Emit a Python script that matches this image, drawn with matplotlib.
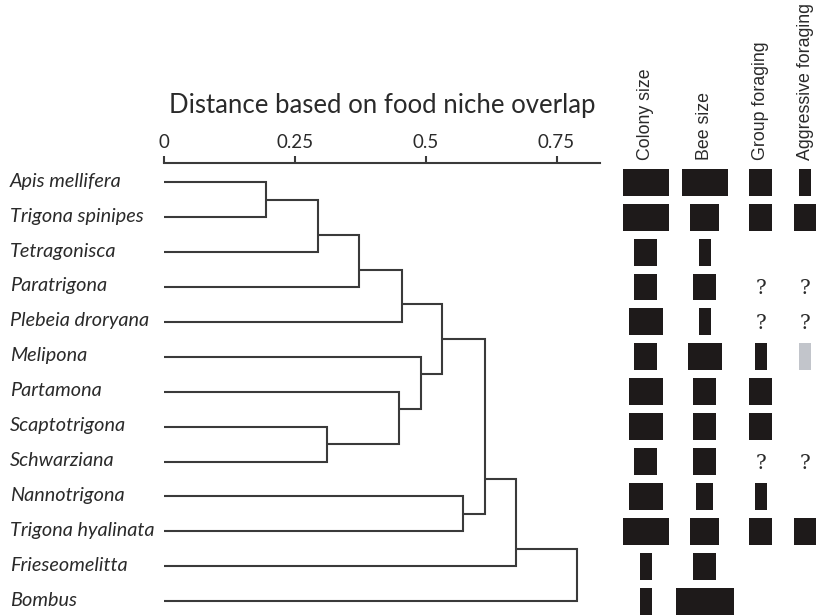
import matplotlib
matplotlib.use('Agg')
import matplotlib.pyplot as plt
import numpy as np
from matplotlib import transforms

# ---------------- data ----------------
species = ["Apis mellifera", "Trigona spinipes", "Tetragonisca", "Paratrigona",
           "Plebeia droryana", "Melipona", "Partamona", "Scaptotrigona",
           "Schwarziana", "Nannotrigona", "Trigona hyalinata", "Frieseomelitta",
           "Bombus"]

# linkage (upper child, lower child, distance); leaves 0..12, new nodes 13..24
merge_upper = [0, 13, 14, 15, 7, 6, 5, 16, 9, 20, 22, 23]
merge_lower = [1, 2, 3, 4, 8, 17, 18, 19, 10, 21, 11, 12]
merge_dist = [0.195, 0.295, 0.372, 0.454, 0.312, 0.449, 0.491, 0.532,
              0.572, 0.613, 0.672, 0.790]

dist_ticks = [0, 0.25, 0.5, 0.75]
dist_ticklabels = ["0", "0.25", "0.5", "0.75"]

trait_names = ["Colony size", "Bee size", "Group foraging", "Aggressive foraging"]
nan = np.nan
colony_size = [4, 4, 2, 2, 3, 2, 3, 3, 2, 3, 4, 1, 1]
bee_size = [4, 2.5, 1, 2, 1, 3, 2, 2, 2, 1.5, 2.5, 2, 5]
group_foraging = [2, 2, 0, nan, nan, 1, 2, 2, nan, 1, 2, 0, 0]
aggressive_foraging = [1, 2, 0, nan, nan, 1, 0, 0, nan, 0, 2, 0, 0]
aggressive_uncertain = [0, 0, 0, 0, 0, 1, 0, 0, 0, 0, 0, 0, 0]

# ---------------- layout ----------------
W, H = 816, 615
fig = plt.figure(figsize=(W / 100, H / 100), dpi=100)
fig.patch.set_facecolor('white')

row0_px, row_step_px = 182.3, 34.9
top_px = 163.3
y_top = (top_px - row0_px) / row_step_px
y_bot = (H - row0_px) / row_step_px
ax_h = (H - top_px) / H

line_col = '#3a3a3a'
text_col = '#2a2a2a'
bar_col = '#1e1a1a'
grey_col = '#c2c5cb'

ax = fig.add_axes([164 / W, 0, (600 - 164) / W, ax_h])
ax.set_xlim(0, 0.833)
ax.set_ylim(y_bot, y_top)

n = len(species)
pos = {i: (0.0, float(i), i, i) for i in range(n)}
for k, (a, b, d) in enumerate(zip(merge_upper, merge_lower, merge_dist)):
    xa, ya, loa, hia = pos[a]
    xb, yb, lob, hib = pos[b]
    ax.plot([xa, d, d, xb], [ya, ya, yb, yb], color=line_col, lw=1.5,
            solid_joinstyle='miter', solid_capstyle='butt')
    pos[n + k] = (d, (hia + lob) / 2.0, min(loa, lob), max(hia, hib))

for s in ['left', 'right', 'bottom']:
    ax.spines[s].set_visible(False)
ax.spines['top'].set_color(line_col)
ax.spines['top'].set_linewidth(1.5)
ax.xaxis.tick_top()
ax.set_xticks(dist_ticks)
ax.set_xticklabels(dist_ticklabels, fontfamily='Lato')
ax.tick_params(axis='x', direction='out', length=4.7, width=1.5, pad=4.5,
               labelsize=13.5, color=line_col, labelcolor=text_col)
ax.set_yticks([])
ax.patch.set_alpha(0)

ax.text(0.5, 1 + (top_px - 112.7) / (H - top_px),
        "Distance based on food niche overlap", transform=ax.transAxes,
        ha='center', va='baseline', fontsize=18.5, fontfamily='Lato',
        color=text_col)

lab_trans = transforms.blended_transform_factory(fig.transFigure, ax.transData) + \
    transforms.ScaledTranslation(0, -4.5 / 100, fig.dpi_scale_trans)
for i, name in enumerate(species):
    ax.text(10 / W, i, name, transform=lab_trans, ha='left', va='baseline',
            fontsize=14.3, fontfamily='Lato', fontstyle='italic', color=text_col)

# ---------------- trait bars ----------------
unit_px = 11.5
ax2 = fig.add_axes([600 / W, 0, 216 / W, ax_h])
ax2.set_xlim(0, 216 / unit_px)
ax2.set_ylim(y_bot, y_top)
ax2.axis('off')

col_centers = [(645.8 - 600) / unit_px, (704.8 - 600) / unit_px,
               (760.9 - 600) / unit_px, (805 - 600) / unit_px]
traits = [colony_size, bee_size, group_foraging, aggressive_foraging]
rows = np.arange(n)
for c, (vals, cx) in enumerate(zip(traits, col_centers)):
    vals = np.asarray(vals, dtype=float)
    for i in rows:
        v = vals[i]
        if np.isnan(v):
            ax2.text(cx, i + 0.05, "?", ha='center', va='center', fontsize=14.5,
                     fontfamily='DejaVu Serif', color=text_col)
        elif v > 0:
            colr = grey_col if (c == 3 and aggressive_uncertain[i]) else bar_col
            ax2.barh(i, v, left=cx - v / 2, height=0.77, color=colr,
                     edgecolor='none', clip_on=False)
    ax2.text(cx, y_top - 3.3 / row_step_px, trait_names[c], rotation=90,
             ha='center', va='bottom', fontsize=12.8,
             fontfamily='Liberation Sans', color=text_col)

fig.savefig('out.png', dpi=100)
